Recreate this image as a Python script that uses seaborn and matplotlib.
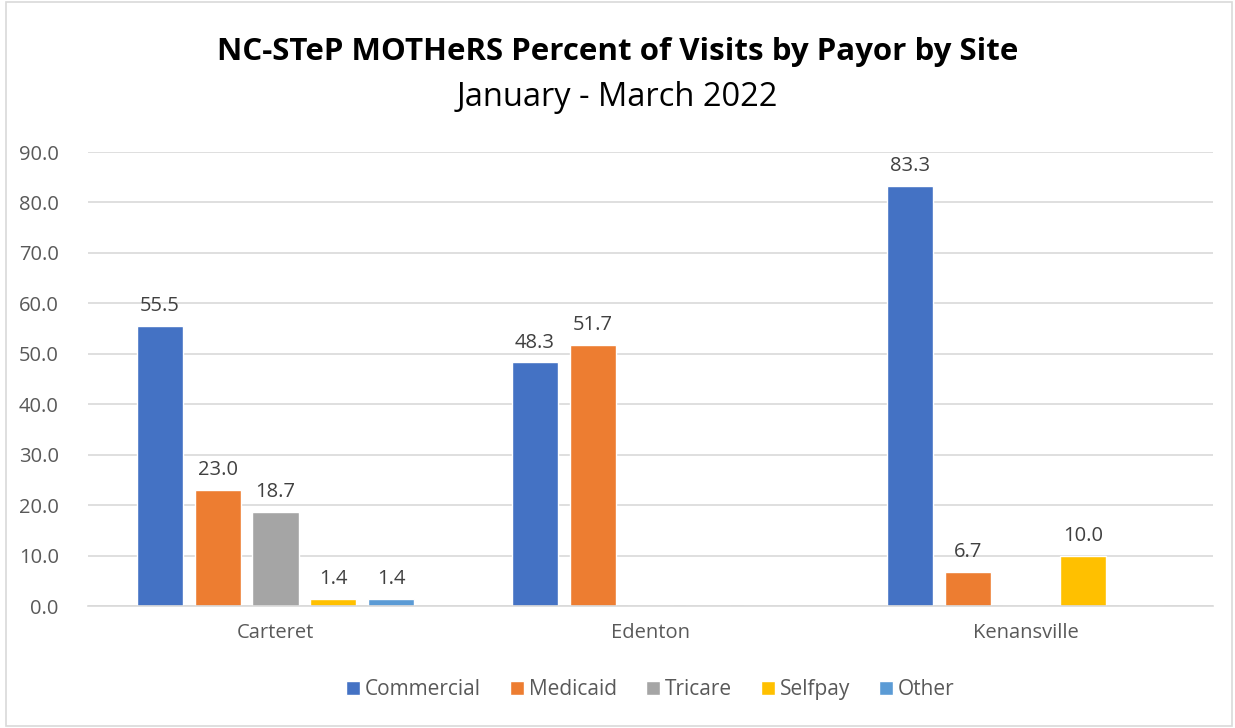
import pandas as pd
import seaborn as sns
import matplotlib.pyplot as plt
from matplotlib.patches import Rectangle

sites = ['Carteret', 'Edenton', 'Kenansville']
payors = ['Commercial', 'Medicaid', 'Tricare', 'Selfpay', 'Other']
commercial = [55.5, 48.3, 83.3]
medicaid = [23.0, 51.7, 6.7]
tricare = [18.7, 0.0, 0.0]
selfpay = [1.4, 0.0, 10.0]
other = [1.4, 0.0, 0.0]
colors = ['#4472C4', '#ED7D31', '#A5A5A5', '#FFC000', '#5B9BD5']

rows = []
for payor, vals in zip(payors, [commercial, medicaid, tricare, selfpay, other]):
    for site, v in zip(sites, vals):
        rows.append({'site': site, 'payor': payor, 'pct': v})
df = pd.DataFrame(rows)

sns.set_theme(style='white')
plt.rcParams['font.family'] = ['Open Sans', 'DejaVu Sans']

fig = plt.figure(figsize=(12.35, 7.28), dpi=100)
ax = fig.add_axes([88 / 1235, 1 - 606 / 728, 1125 / 1235, 454 / 728])

sns.barplot(data=df, x='site', y='pct', hue='payor', order=sites, hue_order=payors,
            palette=colors, width=0.77, gap=0.2, saturation=1, ax=ax, legend=True)

for cont in ax.containers:
    labels = [f'{b.get_height():.1f}' if b.get_height() > 0 else '' for b in cont]
    ax.bar_label(cont, labels=labels, padding=7, fontsize=14.5, color='#404040')

ax.set_xlim(-0.5, 2.5)
ax.set_ylim(0, 90)
ax.set_yticks(range(0, 91, 10))
ax.set_yticklabels([f'{t:.1f}' for t in range(0, 91, 10)])
ax.yaxis.grid(True, color='#D9D9D9', linewidth=1.2)
ax.set_axisbelow(True)
for s in ['top', 'right', 'left']:
    ax.spines[s].set_visible(False)
ax.spines['bottom'].set_color('#D9D9D9')
ax.spines['bottom'].set_linewidth(1.2)
ax.tick_params(axis='both', length=0, labelsize=14.5, labelcolor='#595959')
ax.tick_params(axis='x', pad=12)
ax.tick_params(axis='y', pad=21)
ax.set_xlabel('')
ax.set_ylabel('')

ax.legend(loc='center', bbox_to_anchor=(0.5, -0.185), ncol=5, frameon=False,
          fontsize=15, labelcolor='#595959', handlelength=0.65, handleheight=0.65,
          handletextpad=0.25, columnspacing=1.4)

fig.text(0.5, 1 - 52 / 728, 'NC-STeP MOTHeRS Percent of Visits by Payor by Site',
         ha='center', va='center', fontsize=22.5, fontweight='bold', color='black')
fig.text(0.5, 1 - 98 / 728, 'January - March 2022', ha='center', va='center',
         fontsize=23.5, color='black')

fig.patches.append(Rectangle((6 / 1235, 2 / 728), 1226 / 1235, 724 / 728,
                             transform=fig.transFigure, fill=False,
                             edgecolor='#D9D9D9', linewidth=1.2))

fig.savefig('out.png', dpi=100, facecolor='white')
